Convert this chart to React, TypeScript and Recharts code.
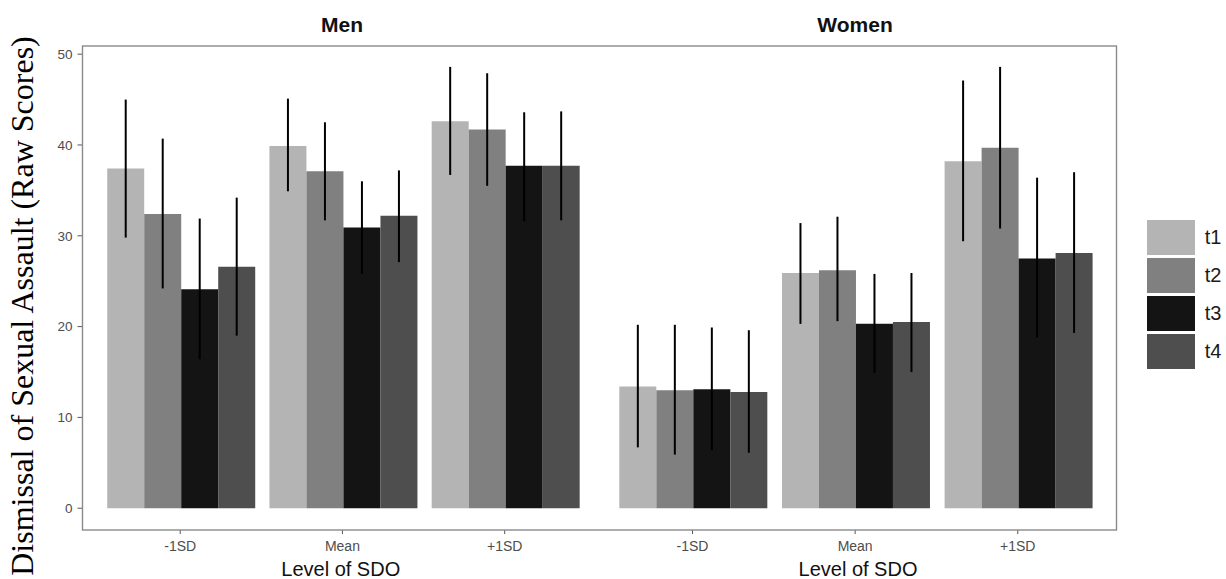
import React from 'react';
import { Bar, BarChart, ErrorBar, Legend, XAxis, YAxis } from 'recharts';

// SDO levels shown under each panel
const sdoLevels = ['-1SD', 'Mean', '+1SD'];
const timePoints = ['t1', 't2', 't3', 't4'];
const yTicks = [0, 10, 20, 30, 40, 50];

// rows = SDO level (-1SD, Mean, +1SD), columns = t1..t4
const menMeans = [
  [37.4, 32.4, 24.1, 26.6],
  [39.9, 37.1, 30.9, 32.2],
  [42.6, 41.7, 37.7, 37.7],
];
const menLower = [
  [29.8, 24.2, 16.4, 19.0],
  [34.9, 31.7, 25.8, 27.1],
  [36.7, 35.5, 31.6, 31.7],
];
const menUpper = [
  [45.0, 40.7, 31.9, 34.2],
  [45.1, 42.5, 36.0, 37.2],
  [48.6, 47.9, 43.6, 43.7],
];

const womenMeans = [
  [13.4, 13.0, 13.1, 12.8],
  [25.9, 26.2, 20.3, 20.5],
  [38.2, 39.7, 27.5, 28.1],
];
const womenLower = [
  [6.7, 5.9, 6.4, 6.1],
  [20.3, 20.6, 14.9, 15.0],
  [29.4, 30.8, 18.8, 19.3],
];
const womenUpper = [
  [20.2, 20.2, 19.9, 19.6],
  [31.4, 32.1, 25.8, 25.9],
  [47.1, 48.6, 36.4, 37.0],
];

const COLORS = ['#b4b4b4', '#808080', '#141414', '#4e4e4e'];
const SANS = "'Liberation Sans', Arial, Helvetica, sans-serif";
const SERIF = "'Liberation Serif', 'Times New Roman', serif";
const Y_DOMAIN: [number, number] = [-2.4, 50.9];

const buildRows = (means: number[][], lower: number[][], upper: number[][]) =>
  sdoLevels.map((level, i) => {
    const row: Record<string, any> = { level };
    timePoints.forEach((t, j) => {
      row[t] = means[i][j];
      row[`${t}Err`] = [means[i][j] - lower[i][j], upper[i][j] - means[i][j]];
    });
    return row;
  });

const menData = buildRows(menMeans, menLower, menUpper);
const womenData = buildRows(womenMeans, womenLower, womenUpper);

const renderBars = () =>
  timePoints.map((t, j) => (
    <Bar key={t} dataKey={t} fill={COLORS[j]} isAnimationActive={false}>
      <ErrorBar dataKey={`${t}Err`} direction="y" width={0} stroke="#000" strokeWidth={2} isAnimationActive={false} />
    </Bar>
  ));

const xAxisProps = {
  dataKey: 'level',
  height: 49,
  axisLine: false,
  tickSize: 4,
  tickMargin: 7,
  tickLine: { stroke: '#555' },
  tick: { fill: '#4d4d4d', fontSize: 14, fontFamily: SANS },
  label: { value: 'Level of SDO', position: 'insideBottom', offset: 3, fill: '#111', fontSize: 20, fontFamily: SANS },
} as const;

const LegendBox = () => (
  <div style={{ width: 80, fontFamily: SANS }}>
    {timePoints.map((t, j) => (
      <div key={t} style={{ display: 'flex', alignItems: 'center', height: 38 }}>
        <div style={{ width: 48, height: 35, background: COLORS[j] }} />
        <span style={{ marginLeft: 10, fontSize: 20, color: '#1a1a1a' }}>{t}</span>
      </div>
    ))}
  </div>
);

export default function App() {
  return (
    <div style={{ position: 'absolute', left: 0, top: 0, width: 1226, height: 579, background: '#fff' }}>
      <div style={{ position: 'absolute', left: 0, top: 0 }}>
        <BarChart width={599} height={579} data={menData} margin={{ top: 46, right: 0, bottom: 0, left: 0 }} barCategoryGap="5%" barGap={0}>
          <XAxis {...xAxisProps} padding={{ left: 16.6, right: 13.2 }} />
          <YAxis
            width={82.5}
            type="number"
            domain={Y_DOMAIN}
            allowDataOverflow
            ticks={yTicks}
            axisLine={false}
            tickSize={5}
            tickMargin={5}
            tickLine={{ stroke: '#555' }}
            tick={{ fill: '#4d4d4d', fontSize: 13.5, fontFamily: SANS }}
            label={{
              content: () => (
                <text transform="translate(33,306) rotate(-90)" textAnchor="middle" fontFamily={SERIF} fontSize={32} fill="#000">
                  Dismissal of Sexual Assault (Raw Scores)
                </text>
              ),
            }}
          />
          {renderBars()}
        </BarChart>
      </div>
      <div style={{ position: 'absolute', left: 599, top: 0 }}>
        <BarChart width={627} height={579} data={womenData} margin={{ top: 46, right: 109, bottom: 0, left: 0 }} barCategoryGap="5%" barGap={0}>
          <XAxis {...xAxisProps} padding={{ left: 12.2, right: 17.9 }} />
          <YAxis hide type="number" domain={Y_DOMAIN} allowDataOverflow ticks={yTicks} />
          {renderBars()}
          <Legend
            layout="vertical"
            align="center"
            verticalAlign="middle"
            content={() => <LegendBox />}
            wrapperStyle={{ left: 547.7, top: 218, right: 'auto', bottom: 'auto' }}
          />
        </BarChart>
      </div>
      <svg width={1226} height={579} style={{ position: 'absolute', left: 0, top: 0, pointerEvents: 'none' }}>
        <rect x={82.5} y={46} width={1034} height={484} fill="none" stroke="#8a8a8a" strokeWidth={1.4} />
        <text x={342} y={31.7} textAnchor="middle" fontFamily={SANS} fontWeight="bold" fontSize={21} fill="#111">
          Men
        </text>
        <text x={855} y={31.7} textAnchor="middle" fontFamily={SANS} fontWeight="bold" fontSize={21} fill="#111">
          Women
        </text>
      </svg>
    </div>
  );
}
